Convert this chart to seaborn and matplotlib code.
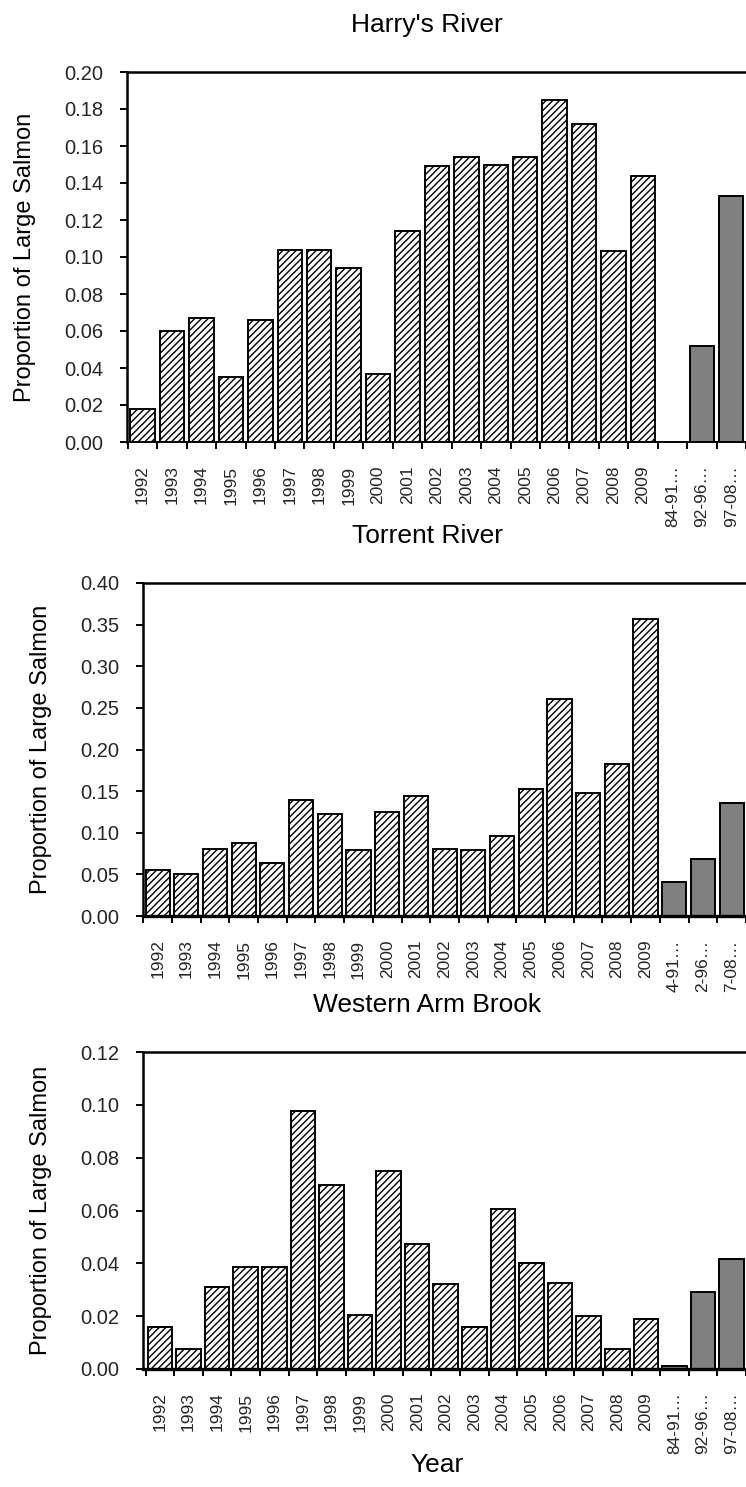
import matplotlib
matplotlib.use("Agg")
import matplotlib.pyplot as plt
import seaborn as sns
import pandas as pd

# Proportion of large salmon by year, plus pooled period means
years = ["1992", "1993", "1994", "1995", "1996", "1997", "1998", "1999", "2000",
         "2001", "2002", "2003", "2004", "2005", "2006", "2007", "2008", "2009"]
periods = ["84-91…", "92-96…", "97-08…"]
periods_torrent = ["4-91…", "2-96…", "7-08…"]

harrys_years = [0.018, 0.060, 0.067, 0.035, 0.066, 0.104, 0.104, 0.094, 0.037,
                0.114, 0.149, 0.154, 0.150, 0.154, 0.185, 0.172, 0.103, 0.144]
harrys_periods = [0.0, 0.052, 0.133]

torrent_years = [0.055, 0.050, 0.081, 0.088, 0.064, 0.139, 0.122, 0.079, 0.125,
                 0.144, 0.081, 0.079, 0.096, 0.152, 0.261, 0.148, 0.182, 0.357]
torrent_periods = [0.041, 0.069, 0.136]

wab_years = [0.016, 0.0075, 0.031, 0.0385, 0.0385, 0.0975, 0.0695, 0.0205, 0.075,
             0.0475, 0.032, 0.016, 0.0605, 0.040, 0.0325, 0.020, 0.0075, 0.019]
wab_periods = [0.001, 0.029, 0.0415]

sns.set_theme(style="white")
plt.rcParams["font.family"] = ["Liberation Sans", "DejaVu Sans"]
plt.rcParams["hatch.linewidth"] = 1.0
plt.rcParams["hatch.color"] = "#3a3a3a"

W, H = 746, 1487
fig = plt.figure(figsize=(W / 100, H / 100), dpi=100)


def px_axes(left, top, bottom, right=W):
    return fig.add_axes([left / W, 1 - bottom / H, (right - left) / W, (bottom - top) / H])


panels = [
    dict(title="Harry's River", labels=years + periods, vals=harrys_years + harrys_periods,
         box=(127, 72, 442), ymax=0.20, step=0.02, fmt="{:.2f}", xlim=(-0.53, 20.49),
         width=0.83, bottom_lw=1.4),
    dict(title="Torrent River", labels=years + periods_torrent, vals=torrent_years + torrent_periods,
         box=(143, 583, 916), ymax=0.40, step=0.05, fmt="{:.2f}", xlim=(-0.51, 20.24),
         width=0.84, bottom_lw=2.4),
    dict(title="Western Arm Brook", labels=years + periods, vals=wab_years + wab_periods,
         box=(143, 1052, 1369), ymax=0.12, step=0.02, fmt="{:.2f}", xlim=(-0.59, 20.5),
         width=0.86, bottom_lw=2.4),
]

for p in panels:
    left, top, bottom = p["box"]
    ax = px_axes(left, top, bottom)
    kinds = ["annual"] * len(years) + ["period"] * len(periods)
    df = pd.DataFrame({"label": p["labels"], "value": p["vals"], "kind": kinds})
    sns.barplot(data=df, x="label", y="value", hue="kind", dodge=False,
                palette={"annual": "white", "period": "#808080"}, legend=False,
                width=p["width"], edgecolor="black", linewidth=1.4, saturation=1, ax=ax)
    for patch in ax.patches:
        fc = patch.get_facecolor()
        if fc[0] > 0.9:
            patch.set_hatch("/////")

    ax.set_xlim(*p["xlim"])
    ax.set_ylim(0, p["ymax"])
    n_ticks = int(round(p["ymax"] / p["step"])) + 1
    yt = [i * p["step"] for i in range(n_ticks)]
    ax.set_yticks(yt)
    ax.set_yticklabels([p["fmt"].format(v) for v in yt], fontsize=14.5)
    ax.set_xticks(range(len(p["labels"])))
    ax.set_xticklabels(p["labels"], rotation=90, fontsize=12.5)
    # separator ticks between categories
    ax.set_xticks([i + 0.5 for i in range(-1, len(p["labels"]))], minor=True)
    ax.tick_params(axis="x", which="major", length=0, pad=17)
    ax.tick_params(axis="x", which="minor", direction="out", length=5, width=1.4,
                   color="black", bottom=True)
    ax.tick_params(axis="y", direction="out", length=5, width=1.4, color="black",
                   left=True, pad=12)
    ax.set_xlabel("")
    ax.set_ylabel("")
    for side in ("left", "top"):
        ax.spines[side].set_visible(True)
        ax.spines[side].set_color("black")
        ax.spines[side].set_linewidth(1.8)
    ax.spines["bottom"].set_color("black")
    ax.spines["bottom"].set_linewidth(p["bottom_lw"])
    ax.spines["right"].set_visible(False)
    ax.grid(False)

    fig.text(427 / W, 1 - (top - 40) / H, p["title"], ha="center", va="baseline",
             fontsize=19, color="black")
    fig.text((left - 102) / W, 1 - ((top + bottom) / 2) / H, "Proportion of Large Salmon",
             rotation=90, ha="center", va="center", fontsize=17, color="black")

fig.text(437 / W, 1 - 1472 / H, "Year", ha="center", va="baseline", fontsize=19, color="black")

fig.savefig("out.png", dpi=100, facecolor="white")
